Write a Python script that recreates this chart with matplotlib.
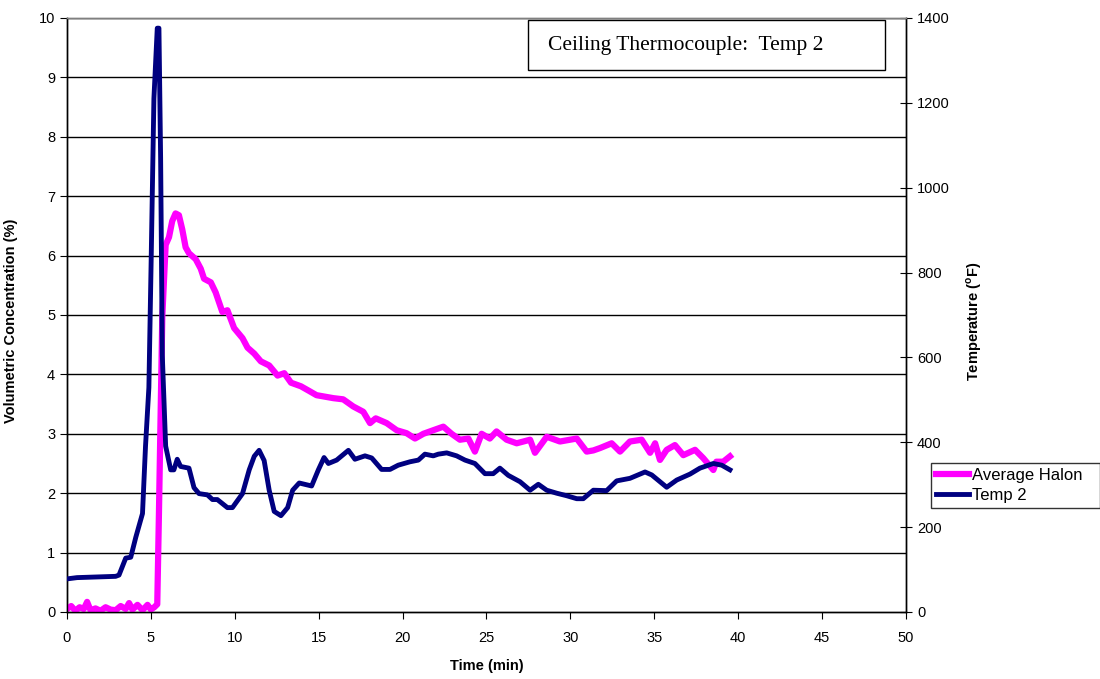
import matplotlib
matplotlib.use('Agg')
import matplotlib.pyplot as plt
from matplotlib.patches import Rectangle

plt.rcParams['font.family'] = ['Liberation Sans', 'DejaVu Sans']

# Temp 2 ceiling thermocouple (deg F, right axis)
temp_t = [0, 0.6, 2.9, 3.1, 3.5, 3.8, 4.1, 4.5, 4.68, 4.88, 5.02, 5.18, 5.38, 5.48,
          5.58, 5.68, 5.88, 6.18, 6.37, 6.57, 6.77, 7.27, 7.57, 7.87, 8.37, 8.67,
          8.96, 9.56, 9.86, 10.46, 10.86, 11.16, 11.45, 11.75, 12.05, 12.35, 12.75,
          13.15, 13.45, 13.84, 14.58, 14.98, 15.32, 15.58, 16.07, 16.77, 17.16,
          17.76, 18.16, 18.75, 19.25, 19.74, 20.44, 20.94, 21.33, 21.83, 22.13,
          22.63, 23.22, 23.72, 24.31, 24.91, 25.4, 25.8, 26.3, 27.0, 27.6, 28.09,
          28.59, 29.18, 29.78, 30.38, 30.77, 31.37, 32.16, 32.76, 33.55, 34.45,
          34.85, 35.74, 36.34, 37.13, 37.72, 38.52, 39.02, 39.51]
temp_f = [78, 81, 84, 87, 127, 129, 176, 232, 391, 529, 837, 1210, 1376, 1376,
          1070, 605, 391, 335, 335, 360, 343, 339, 293, 279, 276, 265,
          265, 246, 246, 279, 335, 367, 381, 357, 287, 237, 227,
          246, 287, 304, 297, 335, 364, 350, 358, 381, 360,
          368, 363, 336, 336, 346, 354, 358, 372, 368, 372,
          375, 368, 358, 350, 326, 326, 339, 322, 307, 287, 301,
          287, 280, 274, 267, 267, 287, 286, 309, 315, 330,
          323, 294, 311, 325, 339, 350, 346, 335]

# Average halon concentration (%, left axis)
halon_t = [0, 0.25, 0.5, 0.75, 1.0, 1.2, 1.4, 1.7, 2.0, 2.3, 2.6, 2.9, 3.2, 3.5,
           3.7, 3.9, 4.2, 4.5, 4.8, 5.0, 5.2, 5.38, 5.48, 5.68, 5.88, 6.08, 6.27,
           6.47, 6.67, 6.87, 7.07, 7.27, 7.67, 7.97, 8.17, 8.57, 8.86, 9.26, 9.56,
           9.96, 10.46, 10.76, 11.16, 11.55, 12.05, 12.55, 12.95, 13.35, 13.94,
           14.44, 14.87, 15.87, 16.46, 17.06, 17.66, 18.06, 18.4, 19.05, 19.65,
           20.24, 20.74, 21.24, 21.83, 22.43, 22.92, 23.42, 23.92, 24.31, 24.71,
           25.2, 25.6, 26.2, 26.8, 27.6, 27.89, 28.59, 29.38, 30.38, 30.97, 31.37,
           31.77, 32.46, 32.96, 33.55, 34.25, 34.75, 35.05, 35.34, 35.74, 36.23,
           36.73, 37.43, 37.92, 38.52, 38.7, 39.11, 39.51]
halon = [0.05, 0.1, 0.02, 0.08, 0.05, 0.17, 0.03, 0.06, 0.02, 0.08, 0.04, 0.03,
         0.1, 0.05, 0.15, 0.04, 0.12, 0.03, 0.12, 0.04, 0.08, 0.13, 1.66, 4.98,
         6.18, 6.31, 6.58, 6.71, 6.68, 6.44, 6.14, 6.04, 5.94, 5.78, 5.61, 5.55,
         5.38, 5.05, 5.08, 4.78, 4.61, 4.45, 4.35, 4.22, 4.15, 3.98, 4.02, 3.86,
         3.80, 3.72, 3.65, 3.60, 3.58, 3.46, 3.37, 3.18, 3.26, 3.18, 3.06, 3.01,
         2.92, 3.0, 3.06, 3.12, 3.0, 2.90, 2.92, 2.70, 3.0, 2.92, 3.04, 2.9, 2.84,
         2.90, 2.68, 2.95, 2.87, 2.92, 2.70, 2.72, 2.76, 2.84, 2.70, 2.87, 2.90,
         2.68, 2.84, 2.56, 2.73, 2.81, 2.64, 2.73, 2.59, 2.39, 2.53, 2.53, 2.62]

fig = plt.figure(figsize=(11, 6.79), dpi=100)
ax = fig.add_axes([0.0609, 0.0987, 0.7627, 0.8748])
ax2 = ax.twinx()

ax.set_xlim(0, 50)
ax.set_ylim(0, 10)
ax2.set_ylim(0, 1400)
ax.set_xticks(range(0, 51, 5))
ax.set_yticks(range(0, 11))
ax2.set_yticks(range(0, 1401, 200))

# gridlines
for v in range(1, 11):
    ax.axhline(v, color='black', lw=1, zorder=1)

l1, = ax.plot(halon_t, halon, color='#FF00FF', lw=4.5, zorder=3, label='Average Halon')
l2, = ax2.plot(temp_t, temp_f, color='#000080', lw=3.5, zorder=3, label='Temp 2')

for a in (ax, ax2):
    for s in a.spines.values():
        s.set_color('black')
        s.set_linewidth(1)
    a.spines['top'].set_color('#808080')
ax.tick_params(axis='y', direction='out', length=5, labelsize=10.5, color='black')
ax.tick_params(axis='x', direction='out', length=5, labelsize=10.5, pad=9)
ax2.tick_params(axis='y', direction='inout', length=8, labelsize=10.5, pad=4)

ax.set_xlabel('Time (min)', fontsize=10.5, fontweight='bold', labelpad=10)
ax.set_ylabel('Volumetric Concentration (%)', fontsize=10.5, fontweight='bold')
ax2.set_ylabel('Temperature ($^{\\mathregular{o}}$F)', fontsize=10.5, fontweight='bold')
ax.yaxis.set_label_coords(-0.058, 0.49)
ax2.yaxis.set_label_coords(1.069, 0.49)

# title box
ax.add_patch(Rectangle((0.5495, 0.9125), 0.4255, 0.0841, transform=ax.transAxes,
                       facecolor='white', edgecolor='black', lw=1, zorder=5))
ax.text(0.573, 0.954, 'Ceiling Thermocouple:  Temp 2', transform=ax.transAxes,
        ha='left', va='center', fontsize=15.5, family='Liberation Serif', zorder=6)

leg = fig.legend([l1, l2], ['Average Halon', 'Temp 2'], loc='lower left',
                 bbox_to_anchor=(0.846, 0.252, 0.154, 0.078), mode='expand',
                 fontsize=12, frameon=True, fancybox=False, handlelength=2.0,
                 borderaxespad=0, handletextpad=0.2, labelspacing=0.3, borderpad=0.3)
leg.get_frame().set_edgecolor('black')
leg.get_frame().set_linewidth(1)

fig.savefig('out.png', dpi=100)
